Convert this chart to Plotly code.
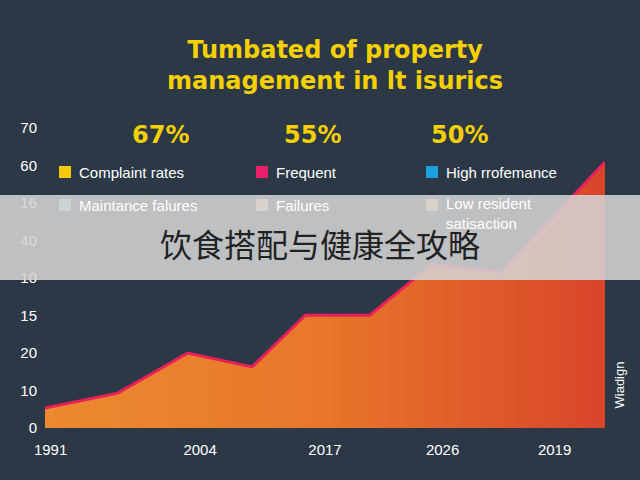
import plotly.graph_objects as go

x_pos = [0, 1.3, 2.55, 3.7, 4.65, 5.8, 6.9, 8.15, 10]
values = [0.53, 0.93, 2.0, 1.63, 3.01, 3.01, 4.35, 4.16, 7.09]
x_tickvals = [0.1, 2.77, 5.0, 7.1, 9.1]
x_ticktext = ["1991", "2004", "2017", "2026", "2019"]
y_tickvals = [0, 1, 2, 3, 4, 5, 6, 7, 8]
y_ticktext = ["0", "10", "20", "15", "10", "40", "16", "60", "70"]
percents = ["67%", "55%", "50%"]
legend_labels = ["Complaint rates", "Frequent", "High rrofemance",
                 "Maintance falures", "Failures", "Low resident<br>satisaction"]
legend_colors = ["#f5c800", "#e8206a", "#1aa3e0", "#8fd3f0", "#f7c98a", "#f5c68a"]

BG = "#2c3846"
fig = go.Figure()
fig.add_trace(go.Scatter(
    x=x_pos, y=values, mode="lines", line=dict(color="#e8205a", width=3),
    fill="tozeroy",
    fillgradient=dict(type="horizontal", colorscale=[[0, "#ec8a30"], [0.5, "#e8762a"], [1, "#d8452a"]]),
    hoverinfo="skip", showlegend=False))

fig.update_layout(
    width=640, height=480, paper_bgcolor=BG, plot_bgcolor=BG,
    margin=dict(l=45, r=35, t=128, b=52),
    font=dict(family="Liberation Sans, Arial", color="white"),
    xaxis=dict(range=[0, 10], tickvals=x_tickvals, ticktext=x_ticktext, showgrid=False,
               zeroline=False, tickfont=dict(size=15, color="white"), showline=False,
               ticks="outside", ticklen=8, tickcolor=BG),
    yaxis=dict(range=[0, 8], tickvals=y_tickvals, ticktext=y_ticktext, showgrid=False,
               zeroline=False, tickfont=dict(size=15, color="white"), showline=False,
               ticks="outside", ticklen=4, tickcolor=BG),
)

def px2x(p): return (p - 45) / 560
def py2y(p): return (428 - p) / 300

ann = []
def A(**k):
    k.setdefault("xref", "paper"); k.setdefault("yref", "paper"); k.setdefault("showarrow", False)
    k.setdefault("yanchor", "middle")
    ann.append(k)

A(x=px2x(335), y=py2y(65), text="<b>Tumbated of property<br>management in lt isurics</b>",
  font=dict(size=24, color="#f5d000", family="DejaVu Sans"))
for t, px in zip(percents, [130, 312, 490]):
    A(x=px2x(px), y=py2y(135), text="<b>" + t + "</b>",
      font=dict(size=24, color="#f5d000", family="DejaVu Sans"))
shapes = []
lx = [65, 262, 432]
for i, (lab, col) in enumerate(zip(legend_labels, legend_colors)):
    row = i // 3
    py = 172 if row == 0 else 205
    px = lx[i % 3]
    shapes.append(dict(type="rect", xref="paper", yref="paper",
                       x0=px2x(px - 6), x1=px2x(px + 6), y0=py2y(py + 6), y1=py2y(py - 6),
                       fillcolor=col, line=dict(width=0)))
    A(x=px2x(px + 12), y=py2y(py + (8 if "<br>" in lab else 0)), xanchor="left",
      text=lab, align="left", font=dict(size=15, color="white"))
shapes.append(dict(type="rect", xref="paper", yref="paper", x0=px2x(0), x1=px2x(640),
                   y0=py2y(280), y1=py2y(195), fillcolor="rgba(212,212,212,0.87)", line=dict(width=0)))
A(x=px2x(320), y=py2y(243), text="饮食搭配与健康全攻略",
  font=dict(size=32, color="#222222", family="Noto Sans CJK SC"))
A(x=px2x(628), y=py2y(385), text="Wiadign", textangle=-90,
  font=dict(size=13, color="white"))
fig.update_layout(annotations=ann, shapes=shapes)
fig.write_html("out.html", config={"displayModeBar": False},
               post_script="document.body.style.margin='0';document.body.style.background='#2c3846';")
